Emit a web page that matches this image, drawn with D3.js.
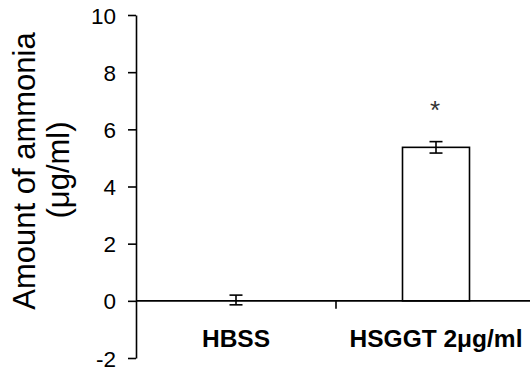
<!DOCTYPE html>
<html>
<head>
<meta charset="utf-8">
<script src="https://cdn.jsdelivr.net/npm/d3@7"></script>
<style>
  body { margin: 0; background: #fff; }
  text { font-family: "Liberation Sans", Arial, sans-serif; fill: #000; }
</style>
</head>
<body>
<script>
// chart data
var categories = ["HBSS", "HSGGT 2\u03bcg/ml"];
var means = [0.03, 5.37];
var errors = [0.17, 0.2];
var stars = ["", "*"];
var yTicks = [-2, 0, 2, 4, 6, 8, 10];

var width = 530, height = 371;

var svg = d3.select("body")
  .append("svg")
    .attr("width", width)
    .attr("height", height);

// scales
var x = d3.scaleBand()
  .domain(categories)
  .range([136, 536])
  .padding(0);

var y = d3.scaleLinear()
  .domain([-2, 10])
  .range([358, 15]);

var barW = x.bandwidth() * 0.335;

// y axis (plain hyphen for negatives, like the original)
var yAxis = svg.append("g")
  .attr("transform", "translate(136,0)")
  .call(d3.axisLeft(y).tickValues(yTicks).tickSize(8).tickSizeOuter(0).tickPadding(12)
    .tickFormat(function(d) { return String(d); }));
yAxis.selectAll("path, line").attr("stroke", "#000").attr("stroke-width", 1.6);
yAxis.selectAll("text")
  .style("font-size", "22.5px")
  .attr("dy", "0.36em");

// y title
svg.append("text")
  .attr("transform", "translate(35,171) rotate(-90)")
  .attr("text-anchor", "middle")
  .style("font-size", "31px")
  .text("Amount of ammonia");
svg.append("text")
  .attr("transform", "translate(69,170) rotate(-90)")
  .attr("text-anchor", "middle")
  .style("font-size", "31px")
  .text("(\u03bcg/ml)");

// bars; a bar whose height is under a pixel is just the axis line
svg.selectAll("rect.bar")
  .data(categories.filter(function(d, i) { return Math.abs(y(means[i]) - y(0)) > 2; }))
  .enter().append("rect")
  .attr("class", "bar")
  .attr("x", function(d) { return x(d) + x.bandwidth() / 2 - barW / 2; })
  .attr("y", function(d) { return y(Math.max(0, means[categories.indexOf(d)])); })
  .attr("width", barW)
  .attr("height", function(d) { return Math.abs(y(means[categories.indexOf(d)]) - y(0)); })
  .attr("fill", "#fff")
  .attr("stroke", "#000")
  .attr("stroke-width", 1.6);

// x axis line at zero
svg.append("line")
  .attr("x1", x.range()[0]).attr("x2", x.range()[1])
  .attr("y1", y(0)).attr("y2", y(0))
  .attr("stroke", "#000")
  .attr("stroke-width", 1.6);

// tick between categories
svg.append("line")
  .attr("x1", x(categories[1])).attr("x2", x(categories[1]))
  .attr("y1", y(0)).attr("y2", y(0) + 8)
  .attr("stroke", "#000")
  .attr("stroke-width", 1.6);

// error bars
var capW = 13;
categories.forEach(function(c, i) {
  var cx = x(c) + x.bandwidth() / 2;
  var g = svg.append("g").attr("stroke", "#000").attr("stroke-width", 1.6);
  g.append("line")
    .attr("x1", cx).attr("x2", cx)
    .attr("y1", y(means[i] + errors[i])).attr("y2", y(means[i] - errors[i]));
  [means[i] + errors[i], means[i] - errors[i]].forEach(function(v) {
    g.append("line")
      .attr("x1", cx - capW / 2).attr("x2", cx + capW / 2)
      .attr("y1", y(v)).attr("y2", y(v));
  });
  if (stars[i]) {
    svg.append("text")
      .attr("x", cx - 1)
      .attr("y", y(means[i] + errors[i]) - 23)
      .attr("text-anchor", "middle")
      .style("font-size", "26px")
      .style("fill", "#333")
      .text(stars[i]);
  }
});

// category labels
svg.selectAll("text.cat")
  .data(categories)
  .enter().append("text")
  .attr("class", "cat")
  .attr("x", function(d) { return x(d) + x.bandwidth() / 2; })
  .attr("y", 347)
  .attr("text-anchor", "middle")
  .style("font-size", "24.5px")
  .style("font-weight", "bold")
  .text(function(d) { return d; });
</script>
</body>
</html>
